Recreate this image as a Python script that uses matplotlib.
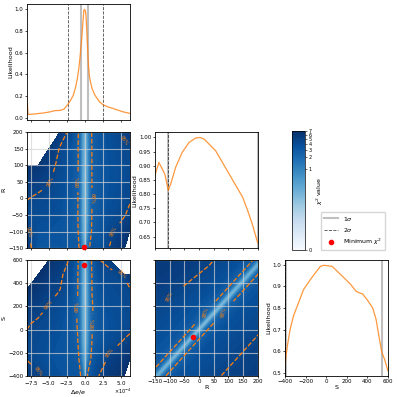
import numpy as np
import matplotlib
matplotlib.use('Agg')
from matplotlib import pyplot as plt
from matplotlib import colors, cm
from matplotlib.lines import Line2D

###############################################################################
# 1D profile likelihoods (delta e / e given in units of 1e-4)
de_vals = [-8.05, -7.9, -7.0, -6.0, -5.0, -4.2, -3.4, -2.9, -2.4, -2.0,
           -1.6, -1.3, -1.05, -0.85, -0.69, -0.5, -0.37, -0.25, -0.14, -0.05,
           0.05, 0.14, 0.23, 0.32, 0.42, 0.5, 0.62, 0.78, 1.0, 1.38,
           2.0, 2.52, 3.2, 3.9, 4.6, 5.28, 6.25]
L_de = [0.18, 0.03, 0.035, 0.042, 0.052, 0.065, 0.068, 0.08, 0.12, 0.16,
        0.21, 0.28, 0.36, 0.45, 0.55, 0.68, 0.79, 0.90, 0.99, 1.0,
        0.99, 0.96, 0.85, 0.73, 0.58, 0.48, 0.39, 0.33, 0.27, 0.21,
        0.15, 0.12, 0.10, 0.086, 0.07, 0.055, 0.04]
R_vals = [-150, -136, -125, -116, -104, -96, -79, -57, -34, -11, 3, 18,
          40, 57, 80, 103, 126, 149, 166, 183, 200]
L_R = [0.865, 0.912, 0.889, 0.871, 0.813, 0.836, 0.895, 0.947, 0.982, 0.998,
       1.0, 0.994, 0.971, 0.953, 0.912, 0.871, 0.83, 0.789, 0.742, 0.69, 0.628]
S_vals = [-400, -390, -377, -351, -318, -269, -220, -154, -105, -56, -23, 10,
          59, 108, 174, 239, 289, 321, 354, 370, 403, 452, 485, 518, 541,
          567, 600]
L_S = [0.534, 0.58, 0.625, 0.70, 0.763, 0.824, 0.885, 0.931, 0.962, 0.992,
       0.997, 0.995, 0.992, 0.969, 0.939, 0.908, 0.878, 0.87, 0.865, 0.855,
       0.835, 0.80, 0.748, 0.656, 0.595, 0.564, 0.51]

# confidence bounds
sig1_de = [-0.6, 0.46]
sig2_de = [-2.39, 2.52]
sig1_R = [-104, 200]
sig2_R = [-104, 200]
sig1_S = [-388, 541]
sig2_S = [-400, 600]

###############################################################################
# chi2 maps
nan = np.nan
grid_de = [-8.05, -6.5, -5, -3.5, -2, -1, -0.4, 0, 0.4, 1, 2, 3.5, 5.5, 6.25]
grid_R = [-150, -100, -50, 0, 50, 100, 150, 200]
chi2_deR = [
    [5.5, 3.2, 3.0, 3.3, 2.9, 3.0, 0.8, 0.0, 1.4, 3.6, 3.4, 4.7, 6.5, nan],
    [4.8, 3.6, 3.5, 3.4, 2.9, 2.5, 0.4, 0.02, 0.45, 2.6, 3.1, 4.3, 5.5, 6.2],
    [4.2, 4.0, 3.9, 3.6, 3.0, 2.4, 0.35, 0.03, 0.35, 2.4, 3.0, 3.9, 4.5, 5.0],
    [4.65, 4.4, 4.2, 3.8, 3.1, 2.4, 0.35, 0.03, 0.35, 2.4, 3.0, 3.7, 4.2, 4.4],
    [5.5, 5.0, 4.7, 4.0, 3.2, 2.5, 0.35, 0.03, 0.35, 2.4, 3.0, 3.6, 4.0, 4.2],
    [6.5, 6.0, 5.2, 4.2, 3.3, 2.5, 0.4, 0.04, 0.35, 2.4, 3.0, 3.6, 4.0, 4.2],
    [nan, nan, 6.0, 4.5, 3.4, 2.5, 0.45, 0.05, 0.4, 2.4, 3.1, 3.7, 4.3, 4.45],
    [nan, nan, nan, 5.4, 4.2, 2.6, 0.5, 0.06, 0.45, 2.5, 3.2, 3.8, 4.9, 5.4],
]
grid_S = [-400, -250, -100, 50, 200, 350, 475, 600]
chi2_deS = [
    [5.6, 4.8, 3.9, 3.6, 3.4, 3.4, 1.8, 0.08, 2.6, 3.6, 4.65, 5.8, 6.8, nan],
    [4.5, 4.0, 3.6, 3.4, 3.1, 2.9, 0.7, 0.06, 0.7, 2.9, 3.8, 4.9, 5.8, 6.5],
    [4.4, 4.1, 3.8, 3.5, 3.0, 2.35, 0.4, 0.04, 0.4, 2.35, 3.2, 4.0, 4.7, 4.9],
    [4.7, 4.4, 4.1, 3.7, 3.1, 2.2, 0.35, 0.03, 0.35, 2.2, 3.1, 3.6, 4.0, 4.2],
    [5.6, 5.0, 4.55, 4.0, 3.3, 2.2, 0.35, 0.02, 0.35, 2.2, 3.2, 3.8, 4.1, 4.2],
    [6.8, 5.9, 5.0, 4.65, 3.6, 2.35, 0.35, 0.01, 0.35, 2.35, 3.5, 4.0, 4.3, 4.5],
    [nan, 6.8, 5.8, 4.9, 3.9, 2.4, 0.4, 0.0, 0.4, 2.4, 3.8, 4.2, 4.7, 6.0],
    [nan, nan, 6.5, 5.6, 4.4, 2.6, 0.45, 0.01, 0.45, 2.6, 4.55, 5.2, nan, nan],
]
# R-S map sampled on rows of S and offsets in R across the diagonal valley
rs_S = [-450, -250, -50, 150, 350, 550, 650]
rs_off = [-400, -200, -70, -27, -10, 0, 10, 27, 70, 200, 400]
rs_slope = 2.8
chi2_RS = [
    [5.5, 4.3, 3.4, 2.2, 0.4, 0.1, 0.4, 2.2, 3.5, 4.5, 5.6],
    [5.5, 4.3, 3.4, 2.2, 0.35, 0.05, 0.35, 2.2, 3.5, 4.5, 5.6],
    [5.4, 4.3, 3.4, 2.2, 0.3, 0.0, 0.3, 2.2, 3.5, 4.5, 5.6],
    [5.5, 4.4, 3.4, 2.2, 0.3, 0.03, 0.3, 2.2, 3.5, 4.5, 5.5],
    [5.8, 4.7, 3.5, 2.2, 0.35, 0.05, 0.35, 2.2, 3.4, 4.4, 5.3],
    [6.0, 5.0, 3.6, 2.2, 0.4, 0.08, 0.4, 2.2, 3.4, 4.3, 5.2],
    [6.0, 5.0, 3.6, 2.2, 0.45, 0.1, 0.45, 2.2, 3.4, 4.3, 5.2],
]
min_deR = (-0.14, -146)
min_deS = (-0.09, 560)
min_RS = (-20, -60)
sig_levels = [2.3, 4.6]
sig_names = {2.3: '68%', 4.6: '95%'}

###############################################################################
plt.rcParams.update({
    'font.size': 5, 'axes.labelsize': 4.6,
    'xtick.labelsize': 4, 'ytick.labelsize': 4,
    'axes.linewidth': 0.6,
    'xtick.major.size': 1.6, 'ytick.major.size': 1.6,
    'xtick.major.width': 0.5, 'ytick.major.width': 0.5,
    'xtick.major.pad': 0.9, 'ytick.major.pad': 0.9,
    'axes.labelpad': 1.2,
})
ORANGE = 'tab:orange'
norm = colors.PowerNorm(gamma=0.2, vmin=0, vmax=7)
fill_levels = 7 * np.linspace(0, 1, 80) ** 5
DE = 1e-4
de_lim = (-8.05 * DE, 6.25 * DE)

fig = plt.figure(figsize=(3.97, 3.97), dpi=100)
lefts = [0.068, 0.390, 0.718]
bottoms = [0.698, 0.375, 0.053]
W, H = 0.259, 0.292


def new_ax(r, c):
    return fig.add_axes([lefts[c], bottoms[r], W, H])


def sigma_lines(ax, s1, s2):
    for x in s1:
        ax.axvline(x, color='gray', alpha=0.5, lw=1.5)
    for x in s2:
        ax.axvline(x, color='k', ls='--', lw=0.6, alpha=0.7)


def chi2_map(ax, X, Y, Z, mn):
    ax.contourf(X, Y, Z, levels=fill_levels, cmap='Blues', norm=norm)
    cs = ax.contour(X, Y, Z, levels=sig_levels, colors=ORANGE,
                    linestyles='--', linewidths=0.9)
    ax.clabel(cs, fmt=sig_names, fontsize=3.5, colors=ORANGE)
    ax.grid(True, color='lightgray', alpha=0.7, lw=0.8)
    ax.plot(*mn, 'o', color='red', ms=3, zorder=5, clip_on=False)


###############################################################################
# diagonal: delta e
ax = new_ax(0, 0)
sigma_lines(ax, np.array(sig1_de) * DE, np.array(sig2_de) * DE)
ax.plot(np.array(de_vals) * DE, L_de, color=ORANGE, alpha=0.8, lw=0.9)
ax.set_xlim(de_lim)
ax.set_ylim(-0.02, 1.05)
ax.set_xticks(np.arange(-7.5, 6, 2.5) * DE)
ax.tick_params(labelbottom=False)
ax.set_ylabel('Likelihood')

# delta e vs R
ax = new_ax(1, 0)
chi2_map(ax, np.array(grid_de) * DE, grid_R, np.array(chi2_deR),
         (min_deR[0] * DE, min_deR[1]))
ax.set_xlim(de_lim)
ax.set_ylim(-150, 200)
ax.set_xticks(np.arange(-7.5, 6, 2.5) * DE)
ax.tick_params(labelbottom=False)
ax.set_ylabel('R')

# delta e vs S
ax = new_ax(2, 0)
chi2_map(ax, np.array(grid_de) * DE, grid_S, np.array(chi2_deS),
         (min_deS[0] * DE, min_deS[1]))
ax.set_xlim(de_lim)
ax.set_ylim(-400, 600)
ax.set_xticks(np.arange(-7.5, 6, 2.5) * DE)
ax.ticklabel_format(axis='x', style='sci', scilimits=(0, 0), useMathText=True)
ax.xaxis.get_offset_text().set_visible(False)
ax.text(1.02, -0.135, r'$\times10^{-4}$', transform=ax.transAxes,
        ha='right', va='center', fontsize=3.6)
ax.set_xlabel(r'$\Delta e/e$', labelpad=0.5)
ax.set_ylabel('S')

# diagonal: R
ax = new_ax(1, 1)
sigma_lines(ax, sig1_R, sig2_R)
ax.plot(R_vals, L_R, color=ORANGE, alpha=0.8, lw=0.9)
ax.set_xlim(-150, 200)
ax.set_xticks(np.arange(-150, 201, 50))
ax.tick_params(labelbottom=False)
ax.set_ylabel('Likelihood')

# R vs S (grid sheared along the valley)
ax = new_ax(2, 1)
Srow = np.array(rs_S, dtype=float)
XR = Srow[:, None] / rs_slope + np.array(rs_off)[None, :]
YS = np.repeat(Srow[:, None], len(rs_off), axis=1)
chi2_map(ax, XR, YS, np.array(chi2_RS), min_RS)
ax.set_xlim(-150, 200)
ax.set_ylim(-400, 600)
ax.set_xticks(np.arange(-150, 201, 50))
ax.tick_params(labelleft=False)
ax.set_xlabel('R', labelpad=0.5)

# diagonal: S
ax = new_ax(2, 2)
sigma_lines(ax, sig1_S, sig2_S)
ax.plot(S_vals, L_S, color=ORANGE, alpha=0.8, lw=0.9)
ax.set_xlim(-400, 600)
ax.set_xlabel('S', labelpad=0.5)
ax.set_ylabel('Likelihood')

###############################################################################
# colorbar and legend
cax = fig.add_axes([0.736, 0.370, 0.033, 0.300])
sm = cm.ScalarMappable(norm=norm, cmap='Blues')
cb = fig.colorbar(sm, cax=cax, ticks=range(8))
cb.ax.tick_params(labelsize=3.5, length=1.5, width=0.4, pad=1)
cb.outline.set_linewidth(0.5)
cb.set_label(r'$\chi^2$ value', fontsize=4.5, labelpad=2)

handles = [
    Line2D([], [], color='gray', alpha=0.5, lw=1.5, label=r'$1\sigma$'),
    Line2D([], [], color='k', ls='--', lw=0.6, alpha=0.7, label=r'$2\sigma$'),
    Line2D([], [], color='red', marker='o', ls='', ms=3,
           label=r'Minimum $\chi^2$'),
]
fig.legend(handles=handles, loc='upper left', bbox_to_anchor=(0.80, 0.475),
           fontsize=4.5, handlelength=2.2, borderpad=0.5, labelspacing=0.5)

fig.savefig('out.png', dpi=100)
